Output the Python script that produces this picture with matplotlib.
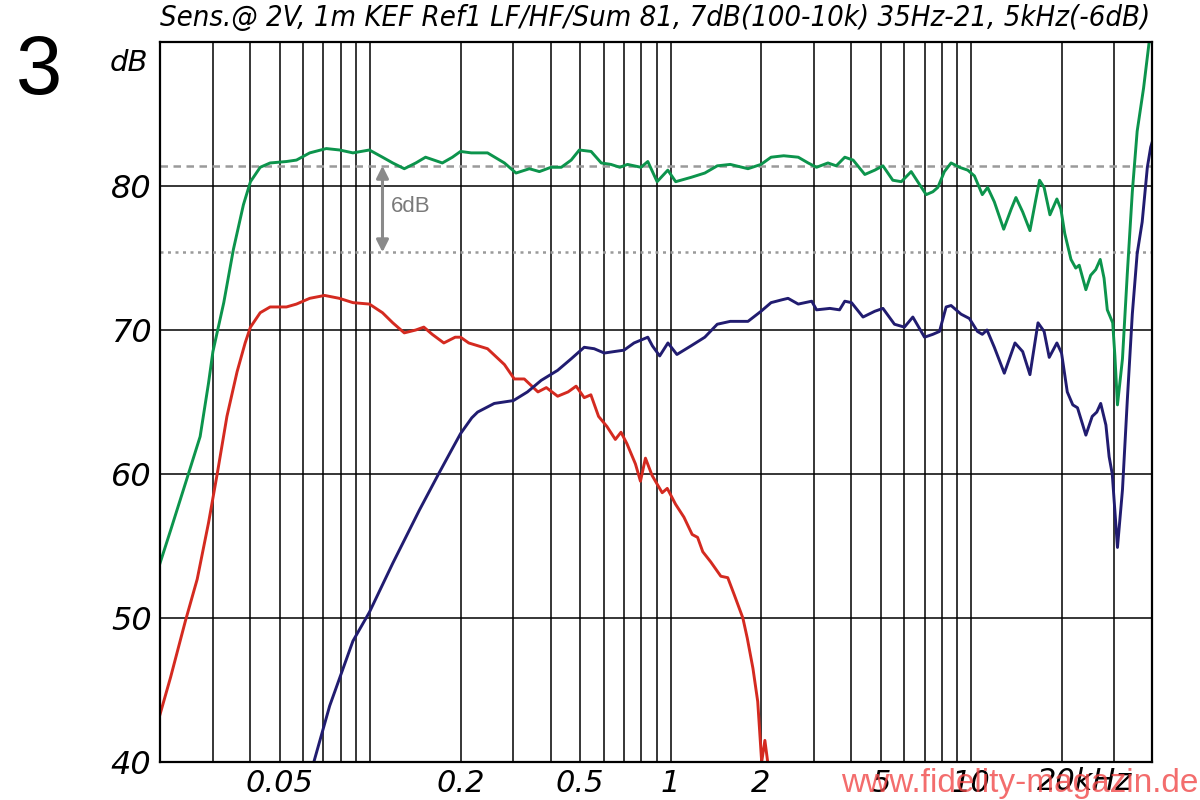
import numpy as np
import matplotlib
matplotlib.use('Agg')
import matplotlib.pyplot as plt
from matplotlib.ticker import LogLocator, NullFormatter, FixedLocator
from matplotlib.transforms import blended_transform_factory

# frequency in kHz, level in dB
sum_freq = [0.020, 0.0217, 0.0246, 0.0272, 0.0290, 0.0300, 0.0326, 0.0351, 0.0379, 0.0400,
            0.0431, 0.0465, 0.0527, 0.0569, 0.063, 0.0715, 0.0792, 0.0877, 0.0995, 0.110,
            0.119, 0.130, 0.142, 0.153, 0.174, 0.188, 0.200, 0.217, 0.246, 0.280,
            0.306, 0.339, 0.366, 0.400, 0.433, 0.467, 0.497, 0.544, 0.588, 0.633,
            0.678, 0.719, 0.797, 0.840, 0.902, 0.979, 1.04, 1.17, 1.30, 1.43,
            1.58, 1.81, 2.00, 2.16, 2.38, 2.66, 2.87, 3.06, 3.34, 3.56,
            3.80, 4.05, 4.43, 4.78, 5.09, 5.49, 5.86, 6.32, 6.74, 7.09,
            7.46, 7.75, 8.15, 8.58, 9.15, 9.75, 10.26, 10.9, 11.35, 11.95,
            12.84, 13.6, 14.1, 14.85, 15.7, 16.4, 16.9, 17.5, 18.3, 19.3,
            19.9, 20.5, 21.5, 22.3, 22.9, 24.1, 25.0, 26.0, 26.9, 27.7,
            28.4, 29.6, 30.1, 30.7, 31.9, 33.1, 34.4, 35.7, 37.5, 39.4]
sum_db = [53.8, 56.1, 59.7, 62.6, 66.3, 68.5, 71.9, 75.6, 78.7, 80.3,
          81.3, 81.6, 81.7, 81.8, 82.3, 82.6, 82.5, 82.3, 82.5, 82.0,
          81.6, 81.2, 81.6, 82.0, 81.6, 82.0, 82.4, 82.3, 82.3, 81.6,
          80.9, 81.2, 81.0, 81.3, 81.3, 81.8, 82.5, 82.4, 81.6, 81.5,
          81.3, 81.5, 81.3, 81.7, 80.3, 81.1, 80.3, 80.6, 80.9, 81.4,
          81.5, 81.2, 81.5, 82.0, 82.1, 82.0, 81.6, 81.3, 81.6, 81.4,
          82.0, 81.8, 80.8, 81.1, 81.4, 80.4, 80.3, 81.0, 80.1, 79.4,
          79.6, 79.9, 81.0, 81.6, 81.3, 81.1, 80.7, 79.4, 79.9, 78.9,
          77.0, 78.4, 79.2, 78.2, 76.9, 79.0, 80.4, 79.9, 78.0, 79.1,
          78.4, 76.7, 74.9, 74.3, 74.5, 72.8, 73.8, 74.2, 74.9, 73.6,
          71.4, 70.5, 68.2, 64.8, 68.0, 73.9, 79.6, 83.8, 86.8, 90.5]

lf_freq = [0.020, 0.0217, 0.0243, 0.0266, 0.029, 0.031, 0.0334, 0.0361, 0.0384, 0.040,
           0.0431, 0.0465, 0.0527, 0.0569, 0.063, 0.0706, 0.079, 0.0877, 0.0995, 0.110,
           0.119, 0.130, 0.142, 0.151, 0.161, 0.176, 0.192, 0.200, 0.213, 0.246,
           0.280, 0.302, 0.326, 0.362, 0.386, 0.421, 0.456, 0.485, 0.516, 0.543,
           0.576, 0.614, 0.655, 0.684, 0.716, 0.764, 0.794, 0.825, 0.868, 0.902,
           0.938, 0.975, 1.039, 1.108, 1.18, 1.23, 1.28, 1.36, 1.47, 1.55,
           1.63, 1.74, 1.80, 1.88, 1.95, 2.01, 2.06, 2.12]
lf_db = [43.3, 45.9, 49.8, 52.7, 56.6, 60.0, 64.0, 67.1, 69.1, 70.2,
         71.2, 71.6, 71.6, 71.8, 72.2, 72.4, 72.2, 71.9, 71.8, 71.2,
         70.5, 69.8, 70.0, 70.2, 69.7, 69.1, 69.5, 69.5, 69.1, 68.7,
         67.6, 66.6, 66.6, 65.7, 66.0, 65.4, 65.7, 66.1, 65.3, 65.5,
         64.0, 63.3, 62.4, 62.9, 62.1, 60.7, 59.5, 61.1, 59.9, 59.3,
         58.7, 59.0, 57.9, 57.0, 55.8, 55.6, 54.6, 53.9, 52.9, 52.8,
         51.6, 50.0, 48.6, 46.5, 44.2, 40.0, 41.5, 39.5]

hf_freq = [0.064, 0.0734, 0.0877, 0.0995, 0.119, 0.146, 0.169, 0.186, 0.200, 0.218,
           0.228, 0.259, 0.300, 0.334, 0.371, 0.421, 0.467, 0.516, 0.557, 0.602,
           0.648, 0.700, 0.756, 0.840, 0.870, 0.920, 0.980, 1.05, 1.17, 1.30,
           1.43, 1.58, 1.81, 2.00, 2.16, 2.35, 2.46, 2.66, 2.95, 3.06,
           3.39, 3.65, 3.80, 4.00, 4.37, 4.78, 5.09, 5.56, 6.00, 6.40,
           7.00, 7.46, 7.85, 8.26, 8.58, 9.26, 9.87, 10.5, 10.9, 11.3,
           11.95, 12.9, 14.0, 14.85, 15.7, 16.7, 17.5, 18.2, 19.3, 20.0,
           20.9, 21.8, 22.6, 24.1, 25.3, 26.2, 27.0, 28.1, 28.8, 29.5,
           30.7, 31.9, 33.1, 34.4, 35.7, 37.1, 38.6, 39.6, 40.0]
hf_db = [39.5, 43.9, 48.4, 50.4, 53.8, 57.5, 60.0, 61.6, 62.8, 63.9,
         64.3, 64.9, 65.1, 65.7, 66.5, 67.2, 68.0, 68.8, 68.7, 68.4,
         68.5, 68.6, 69.1, 69.5, 68.9, 68.2, 69.1, 68.3, 68.9, 69.5,
         70.4, 70.6, 70.6, 71.3, 71.9, 72.1, 72.2, 71.8, 72.0, 71.4,
         71.5, 71.4, 72.0, 71.9, 70.9, 71.3, 71.5, 70.4, 70.2, 70.9,
         69.5, 69.7, 69.9, 71.6, 71.7, 71.1, 70.8, 69.9, 69.7, 70.0,
         68.8, 67.0, 69.1, 68.5, 66.9, 70.5, 69.9, 68.1, 69.1, 68.4,
         65.7, 64.8, 64.6, 62.7, 64.0, 64.3, 64.9, 63.4, 61.2, 60.0,
         54.9, 58.9, 65.1, 71.1, 75.3, 77.5, 81.3, 82.7, 83.0]

ref_level = 81.4   # dashed reference line
ref_minus6 = 75.4  # dotted -6 dB line

x_ticks = [0.05, 0.2, 0.5, 1, 2, 5, 10]
x_labels = ['0.05', '0.2', '0.5', '1', '2', '5', '10']
y_ticks = [40, 50, 60, 70, 80]

title = 'Sens.@ 2V, 1m KEF Ref1 LF/HF/Sum 81, 7dB(100-10k) 35Hz-21, 5kHz(-6dB)'

fig = plt.figure(figsize=(12, 8), dpi=100)
ax = fig.add_axes([160 / 1200, 38 / 800, 992 / 1200, 720 / 800])

ax.set_xscale('log')
ax.set_xlim(0.02, 40)
ax.set_ylim(40, 90)

# grid: every 1..9 x decade, every 10 dB
ax.xaxis.set_major_locator(FixedLocator(x_ticks))
ax.xaxis.set_minor_locator(LogLocator(base=10, subs=np.arange(1, 10), numticks=20))
ax.xaxis.set_minor_formatter(NullFormatter())
ax.set_xticklabels(x_labels)
ax.set_yticks(y_ticks)
ax.set_yticks([90], minor=True)
ax.set_yticklabels([str(v) for v in y_ticks])
ax.grid(which='both', color='black', linewidth=1.1, zorder=1)
ax.tick_params(which='both', length=0)
ax.tick_params(axis='x', pad=5)
ax.tick_params(axis='y', pad=6)
for lbl in ax.get_xticklabels() + ax.get_yticklabels():
    lbl.set_fontsize(22)
    lbl.set_fontstyle('italic')
for lbl in ax.get_yticklabels():
    lbl.set_fontsize(23)
for sp in ax.spines.values():
    sp.set_linewidth(1.6)
    sp.set_zorder(5)

# reference lines and the 6 dB arrow
ax.axhline(ref_level, color='#9a9a9a', linestyle=(0, (3, 2.2)), linewidth=1.8, zorder=2)
ax.axhline(ref_minus6, color='#9a9a9a', linestyle=(0, (1.2, 1.8)), linewidth=1.8, zorder=2)
ax.annotate('', xy=(0.110, ref_minus6), xytext=(0.110, ref_level),
            arrowprops=dict(arrowstyle='<|-|>', color='#8a8a8a', lw=2.2,
                            mutation_scale=18, shrinkA=0, shrinkB=0), zorder=3)
ax.text(0.117, (ref_level + ref_minus6) / 2 + 0.2, '6dB', color='#7a7a7a',
        fontsize=16, family='Liberation Sans', va='center', ha='left', zorder=3)

# measured curves
ax.plot(lf_freq, lf_db, color='#d42a20', linewidth=2.1, zorder=4)
ax.plot(hf_freq, hf_db, color='#211c70', linewidth=2.1, zorder=4)
ax.plot(sum_freq, sum_db, color='#0c944c', linewidth=2.1, zorder=4)

# '20kHz' label sits left-shifted
trans = blended_transform_factory(ax.transData, ax.transAxes)
ax.text(16.6, -0.0075, '20kHz', transform=trans, fontsize=22, fontstyle='italic',
        ha='left', va='top')
ax.text(-0.012, 0.99, 'dB', transform=ax.transAxes, fontsize=21, fontstyle='italic',
        ha='right', va='top')

fig.text(160 / 1200, 1 - 18 / 800, title, fontsize=21, fontstyle='italic',
         family=['Liberation Sans Narrow', 'DejaVu Sans'], fontstretch='condensed',
         ha='left', va='center')
fig.text(16 / 1200, 1 - 72 / 800, '3', fontsize=60, family='Liberation Sans',
         ha='left', va='center')
fig.text(1198 / 1200, 8 / 800, 'www.fidelity-magazin.de', fontsize=24,
         family='Liberation Sans', color='#f04848', alpha=0.8, ha='right', va='baseline')

fig.savefig('out.png', dpi=100)
